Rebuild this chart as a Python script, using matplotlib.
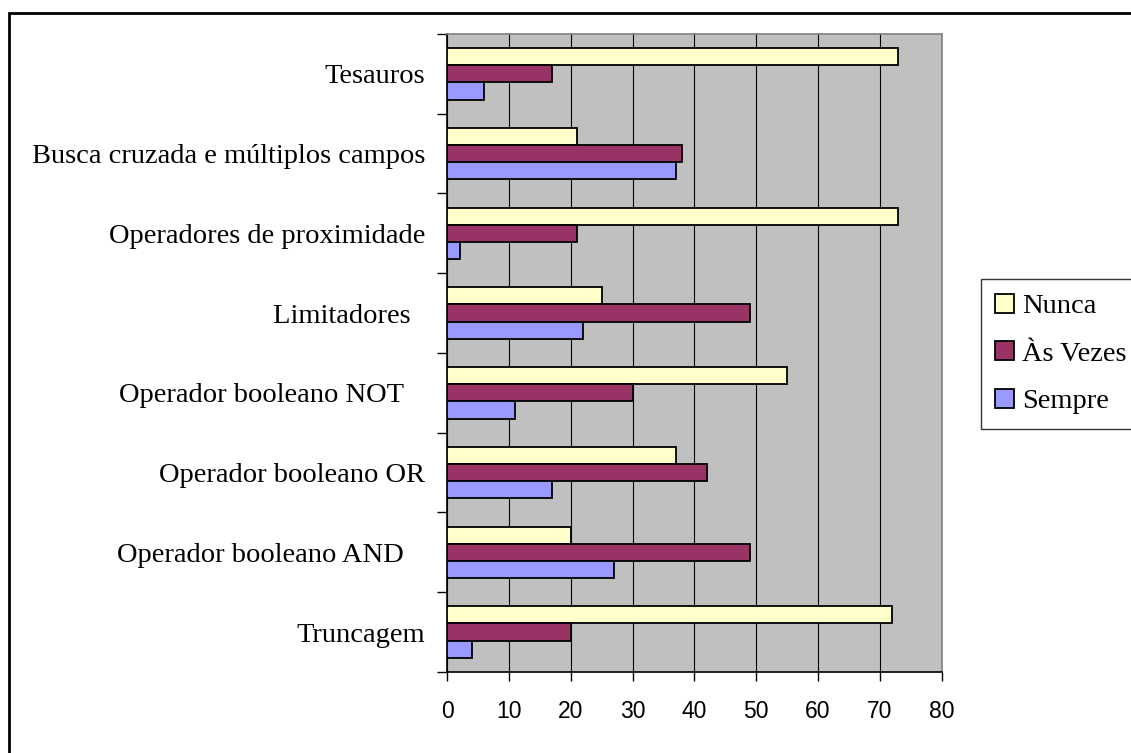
import numpy as np
import matplotlib.pyplot as plt
from matplotlib.patches import Rectangle

# categories from bottom to top
categorias = ['Truncagem', 'Operador booleano AND   ', 'Operador booleano OR',
              'Operador booleano NOT   ', 'Limitadores  ', 'Operadores de proximidade',
              'Busca cruzada e múltiplos campos', 'Tesauros']
nunca = [72, 20, 37, 55, 25, 73, 21, 73]
as_vezes = [20, 49, 42, 30, 49, 21, 38, 17]
sempre = [4, 27, 17, 11, 22, 2, 37, 6]
x_ticks = [0, 10, 20, 30, 40, 50, 60, 70, 80]

serif = ['Liberation Serif', 'DejaVu Serif']
sans = ['Liberation Sans', 'DejaVu Sans']

fig = plt.figure(figsize=(11.31, 7.53), dpi=100)
ax = fig.add_axes([0.3955, 0.1076, 0.4371, 0.8473])
ax.set_facecolor('#C0C0C0')

y = np.arange(len(categorias))
h = 0.216
ax.barh(y + h, nunca, height=h, color='#FFFFCC', edgecolor='black', linewidth=1.3, label='Nunca', zorder=3)
ax.barh(y, as_vezes, height=h, color='#993366', edgecolor='black', linewidth=1.3, label='Às Vezes', zorder=3)
ax.barh(y - h, sempre, height=h, color='#9999FF', edgecolor='black', linewidth=1.3, label='Sempre', zorder=3)

ax.set_xlim(0, 80)
ax.set_ylim(-0.5, len(categorias) - 0.5)
ax.set_xticks(x_ticks)
ax.set_xticklabels([str(t) for t in x_ticks], fontfamily=sans, fontsize=16.5)
ax.xaxis.grid(True, color='black', linewidth=0.8, zorder=1)
ax.set_axisbelow(True)

# category boundaries get the tick marks, names sit in between
ax.set_yticks(np.arange(-0.5, len(categorias), 1.0))
ax.set_yticklabels([])
ax.set_yticks(y, minor=True)
ax.set_yticklabels(categorias, minor=True, fontfamily=serif, fontsize=20.5)
ax.tick_params(axis='y', which='major', direction='out', length=7, width=1)
ax.tick_params(axis='y', which='minor', length=0, pad=16)
ax.tick_params(axis='x', direction='out', length=6.5, width=1, pad=14)

for s in ['left', 'bottom']:
    ax.spines[s].set_color('black')
    ax.spines[s].set_linewidth(1.2)
for s in ['top', 'right']:
    ax.spines[s].set_color('#808080')
    ax.spines[s].set_linewidth(1.2)

leg = fig.legend(loc='center left', bbox_to_anchor=(981 / 1131, 1 - 354 / 753),
                 prop={'family': serif, 'size': 20.5}, frameon=True, fancybox=False,
                 handlelength=0.65, handleheight=0.65, handletextpad=0.3,
                 borderpad=0.5, labelspacing=0.78, borderaxespad=0)
leg.get_frame().set_edgecolor('black')
leg.get_frame().set_linewidth(1.0)

# outer chart border
fig.patches.append(Rectangle((9 / 1131, -0.1), 1.2, 1 - 13 / 753 + 0.1, transform=fig.transFigure,
                             fill=False, edgecolor='black', linewidth=2))

fig.savefig('out.png', dpi=100)
